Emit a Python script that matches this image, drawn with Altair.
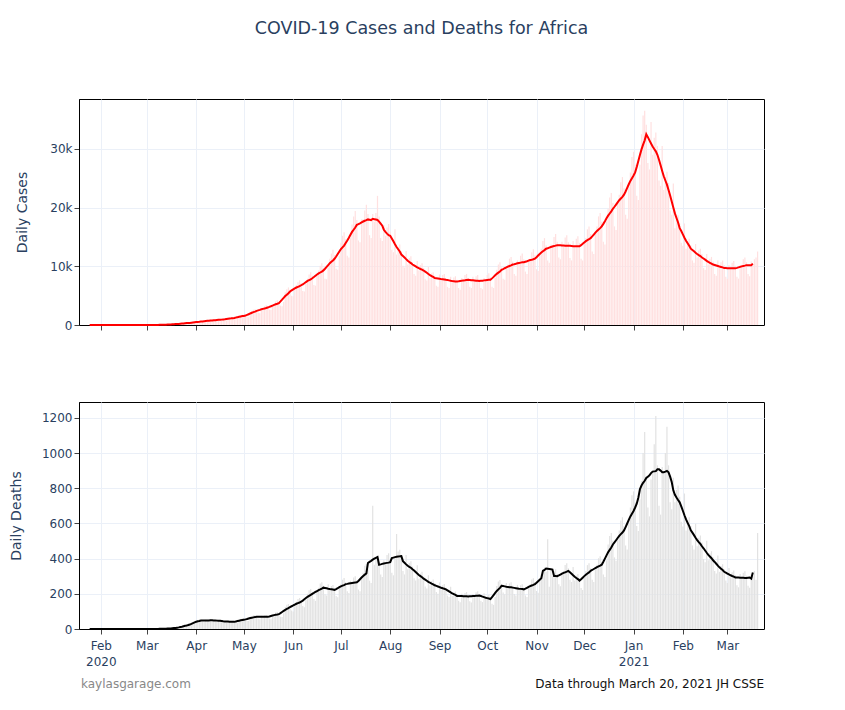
import altair as alt
import pandas as pd

start_date = "2020-01-22"

# Daily new cases, one row per week (weeks start on Wednesday)
cases_2020 = [
    0, 0, 0, 0, 0, 0, 0,
    0, 0, 0, 0, 0, 0, 0,
    0, 0, 0, 0, 0, 0, 0,
    0, 0, 1, 0, 0, 0, 0,
    0, 0, 0, 0, 0, 0, 1,
    0, 1, 0, 0, 1, 2, 2,
    5, 8, 12, 10, 15, 25, 30,
    35, 50, 60, 55, 70, 100, 120,
    130, 160, 170, 200, 180, 220, 260,
    300, 340, 380, 420, 330, 320, 400,
    560, 580, 620, 640, 520, 500, 650,
    780, 820, 860, 800, 700, 680, 810,
    950, 1000, 1050, 980, 820, 800, 1020,
    1200, 1300, 1350, 1250, 1000, 1050, 1300,
    1600, 1750, 1800, 1700, 1400, 1300, 1650,
    2400, 2600, 2700, 2550, 2100, 2000, 2500,
    3000, 3200, 3350, 3100, 2600, 2550, 3150,
    3600, 4000, 4200, 3900, 3300, 3200, 3900,
    5600, 6100, 6400, 6000, 5000, 4900, 6000,
    6800, 7300, 7600, 7100, 5800, 5700, 7100,
    7900, 8600, 9000, 8400, 6800, 6700, 8400,
    9300, 10100, 10500, 9700, 7900, 7800, 9800,
    11300, 12200, 12800, 11900, 9600, 9400, 11800,
    14000, 15200, 15800, 14600, 11800, 11500, 14800,
    17100, 18500, 19400, 17900, 14400, 14100, 18000,
    18000, 19500, 20500, 18900, 15300, 14800, 18900,
    17600, 19100, 22000, 18500, 14800, 14300, 17000,
    15200, 16600, 17200, 15900, 12800, 12400, 16300,
    12000, 13200, 13700, 12600, 10100, 9800, 12600,
    10300, 11400, 11700, 10700, 8700, 8400, 10900,
    9300, 10200, 10500, 9700, 7800, 7600, 9900,
    8000, 8800, 9000, 8400, 6700, 6500, 8600,
    7700, 8500, 8700, 8000, 6500, 6300, 8200,
    7400, 8100, 8300, 7700, 6300, 6000, 8000,
    7700, 8500, 8700, 8000, 6500, 6300, 8200,
    7500, 8300, 8500, 7800, 6300, 6100, 8000,
    7700, 8500, 8800, 8100, 6500, 6300, 8000,
    9400, 10300, 10700, 9800, 7900, 7700, 10000,
    10300, 11300, 11600, 10800, 8700, 8400, 11000,
    10700, 11800, 12200, 11200, 9100, 8700, 11200,
    11300, 12400, 12900, 11900, 9500, 9200, 12000,
    13000, 14300, 14800, 13600, 11000, 10600, 13700,
    13600, 15000, 15500, 14200, 11500, 11200, 14200,
    13500, 14900, 15300, 14100, 11400, 11000, 14300,
    13400, 14700, 15100, 14000, 11300, 11000, 14300,
    14800, 16300, 16800, 15500, 12500, 12100, 15600,
    16800, 18500, 19100, 17600, 14200, 13700, 17700,
    19800, 21700, 22500, 20800, 16800, 16200, 20800,
    22200, 24300, 25200, 23300, 18800, 18100, 23500,
    26000, 28600,
]
cases_2021 = [
    29500, 27300, 22000, 21300, 27300,
    32500, 35700, 36500, 34100, 27600, 26500, 34600,
    29000, 31900, 32800, 30500, 24600, 23700, 30500,
    23000, 25300, 26100, 24200, 19500, 18800, 24100,
    16500, 18200, 18700, 17300, 14000, 13500, 17300,
    13000, 14300, 14700, 13600, 11000, 10600, 13800,
    11500, 12700, 13000, 12100, 9700, 9400, 12100,
    10300, 11300, 11600, 10800, 8700, 8400, 11000,
    9700, 10700, 11000, 10200, 8200, 7900, 10200,
    9650, 10600, 10900, 10100, 8200, 7900, 10200,
    10200, 11200, 11500, 10700, 8700, 8300, 10800,
    10200, 11200, 11500, 12500,
]

# Daily new deaths, one row per week (weeks start on Wednesday)
deaths_2020 = [
    0, 0, 0, 0, 0, 0, 0,
    0, 0, 0, 0, 0, 0, 0,
    0, 0, 0, 0, 0, 0, 0,
    0, 0, 0, 0, 0, 0, 0,
    0, 0, 0, 0, 0, 0, 0,
    0, 0, 0, 0, 0, 0, 0,
    0, 0, 0, 0, 1, 0, 1,
    1, 2, 1, 2, 3, 2, 4,
    5, 6, 8, 10, 9, 12, 15,
    18, 20, 25, 28, 22, 30, 35,
    45, 50, 55, 52, 42, 40, 52,
    48, 52, 56, 50, 42, 44, 55,
    44, 48, 50, 45, 38, 36, 46,
    40, 44, 46, 42, 34, 33, 45,
    55, 60, 62, 57, 46, 45, 58,
    70, 78, 80, 73, 58, 56, 75,
    70, 77, 79, 72, 58, 56, 74,
    85, 94, 97, 88, 70, 68, 90,
    125, 138, 142, 130, 105, 100, 135,
    155, 170, 176, 162, 130, 124, 168,
    200, 220, 228, 210, 170, 160, 212,
    235, 258, 265, 245, 198, 190, 254,
    222, 245, 250, 232, 188, 180, 237,
    255, 280, 290, 266, 215, 205, 274,
    265, 292, 300, 277, 224, 214, 283,
    320, 360, 370, 340, 275, 262, 700,
    365, 400, 415, 380, 310, 295, 390,
    380, 420, 430, 395, 320, 305, 410,
    540, 440, 450, 410, 330, 310, 420,
    340, 375, 385, 355, 288, 275, 362,
    285, 315, 325, 298, 242, 230, 305,
    248, 273, 282, 260, 210, 200, 265,
    225, 248, 256, 235, 190, 182, 240,
    188, 207, 213, 197, 160, 152, 200,
    185, 204, 210, 194, 157, 150, 197,
    190, 209, 215, 199, 161, 153, 203,
    170, 187, 193, 178, 144, 137, 182,
    245, 270, 278, 256, 208, 198, 262,
    235, 259, 266, 246, 199, 190, 251,
    225, 248, 255, 236, 191, 182, 240,
    255, 281, 289, 267, 216, 206, 272,
    310, 340, 350, 325, 510, 240, 330,
    300, 330, 340, 314, 255, 243, 320,
    330, 363, 374, 345, 280, 267, 353,
    275, 303, 312, 288, 233, 222, 294,
    330, 363, 374, 345, 280, 267, 353,
    365, 402, 414, 382, 310, 295, 390,
    480, 528, 545, 502, 407, 388, 513,
    560, 616, 635, 586, 475, 452, 598,
    690, 760,
]
deaths_2021 = [
    782, 722, 585, 557, 737,
    840, 1000, 1120, 870, 690, 640, 850,
    890, 1050, 1210, 930, 700, 650, 920,
    890, 1000, 1150, 930, 720, 680, 860,
    720, 790, 815, 752, 610, 582, 770,
    560, 616, 635, 586, 475, 452, 598,
    470, 518, 532, 491, 398, 380, 502,
    390, 430, 442, 408, 330, 315, 417,
    325, 358, 368, 340, 275, 262, 347,
    293, 322, 332, 306, 248, 237, 313,
    290, 319, 328, 303, 246, 234, 310,
    300, 330, 280, 545,
]

cases_ticks = [0, 10000, 20000, 30000]
deaths_ticks = [0, 200, 400, 600, 800, 1000, 1200]

title_text = "COVID-19 Cases and Deaths for Africa"
footer_left = "kaylasgarage.com"
footer_right = "Data through March 20, 2021 JH CSSE"

cases = cases_2020 + cases_2021
deaths = deaths_2020 + deaths_2021
dates = pd.date_range(start_date, periods=len(cases), freq="D")
df = pd.DataFrame({"date": dates.strftime("%Y-%m-%d"), "cases": cases, "deaths": deaths})
df["cases_avg"] = pd.Series(cases, dtype=float).rolling(7, center=True).mean()
df["deaths_avg"] = pd.Series(deaths, dtype=float).rolling(7, center=True).mean()
line_df = df.dropna()

FONT = "DejaVu Sans"
TXT = "#2a3f5f"
GRID = "#EBF0F8"
W, H1, H2 = 685, 226, 227

xscale = alt.Scale(
    type="utc",
    domain=[
        alt.DateTime(year=2020, month=1, date=21, hours=11, utc=True),
        alt.DateTime(year=2021, month=3, date=20, hours=21, utc=True),
    ],
)
label_expr = ("(utcmonth(datum.value) == 0 || datum.index == 0) ? "
              "[utcFormat(datum.value, '%b'), utcFormat(datum.value, '%Y')] : "
              "utcFormat(datum.value, '%b')")

x_top = alt.X("date:T", scale=xscale, title=None,
              axis=alt.Axis(tickCount={"interval": "month", "step": 1}, labels=False,
                            grid=True, gridColor=GRID, ticks=True, tickSize=5,
                            tickColor="#444", domainColor="black"))
x_bot = alt.X("date:T", scale=xscale, title=None,
              axis=alt.Axis(tickCount={"interval": "month", "step": 1}, labelExpr=label_expr,
                            grid=True, gridColor=GRID, ticks=True, tickSize=5,
                            tickColor="#444", domainColor="black", labelColor=TXT,
                            labelFontSize=12, labelLineHeight=16, labelPadding=6,
                            labelFlush=False, labelOverlap=False))

y_cases_axis = alt.Axis(values=cases_ticks,
                        labelExpr="datum.value == 0 ? '0' : format(datum.value / 1000, 'd') + 'k'",
                        title="Daily Cases",
                        grid=True, gridColor=GRID, tickSize=5, tickColor="#444",
                        domainColor="black", labelColor=TXT, labelFontSize=12,
                        labelOverlap=False,
                        titleColor=TXT, titleFontSize=14, titleFontWeight="normal",
                        titlePadding=20)
y_deaths_axis = alt.Axis(values=deaths_ticks, format="d", title="Daily Deaths",
                         grid=True, gridColor=GRID, tickSize=5, tickColor="#444",
                         domainColor="black", labelColor=TXT, labelFontSize=12,
                         labelOverlap=False,
                         titleColor=TXT, titleFontSize=14, titleFontWeight="normal",
                         titlePadding=18)

cases_scale = alt.Scale(domain=[0, 38500], nice=False)
deaths_scale = alt.Scale(domain=[0, 1290], nice=False)

cases_bars = alt.Chart(df).mark_bar(color="#ffe0e0", size=1.2).encode(
    x=x_top,
    y=alt.Y("cases:Q", scale=cases_scale, axis=y_cases_axis),
)
cases_line = alt.Chart(line_df).mark_line(color="red", strokeWidth=2).encode(
    x=x_top, y=alt.Y("cases_avg:Q", scale=cases_scale, axis=y_cases_axis),
)
top = alt.layer(cases_bars, cases_line).properties(
    width=W, height=H1,
    title=alt.TitleParams(title_text, fontSize=17.5, font=FONT, color=TXT, fontWeight="normal",
                          anchor="middle", frame="group", offset=62),
)

deaths_bars = alt.Chart(df).mark_bar(color="#e2e2e2", size=1.2).encode(
    x=x_bot,
    y=alt.Y("deaths:Q", scale=deaths_scale, axis=y_deaths_axis),
)
deaths_line = alt.Chart(line_df).mark_line(color="black", strokeWidth=2).encode(
    x=x_bot, y=alt.Y("deaths_avg:Q", scale=deaths_scale, axis=y_deaths_axis),
)
foot_l = alt.Chart(pd.DataFrame({"t": [footer_left]})).mark_text(
    align="left", baseline="middle", fontSize=12, font=FONT, color="#888888"
).encode(text="t:N", x=alt.value(2), y=alt.value(H2 + 55))
foot_r = alt.Chart(pd.DataFrame({"t": [footer_right]})).mark_text(
    align="right", baseline="middle", fontSize=12, font=FONT, color="#111111"
).encode(text="t:N", x=alt.value(W), y=alt.value(H2 + 55))
bottom = alt.layer(deaths_bars, deaths_line, foot_l, foot_r).properties(width=W, height=H2)

chart = alt.vconcat(top, bottom, spacing=69).properties(
    padding={"left": 0, "top": 11, "right": 10, "bottom": 5},
    background="white",
).configure_view(
    stroke="black", strokeWidth=1
).configure_axis(
    labelFont=FONT, titleFont=FONT
).configure_text(font=FONT)

chart.save("out.html", embed_options={"renderer": "svg", "actions": False})
